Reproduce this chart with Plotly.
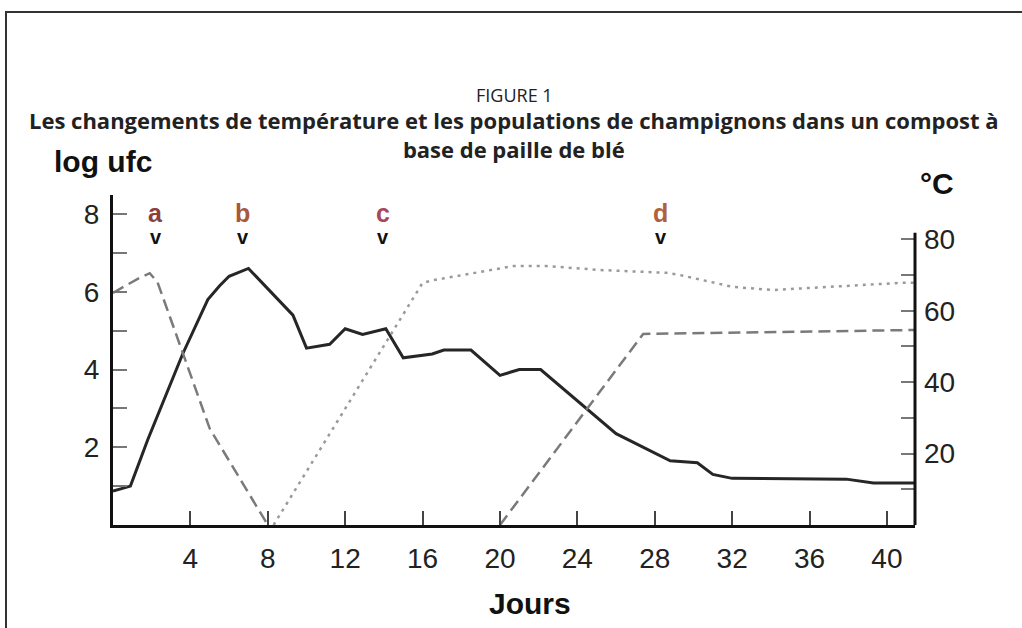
import plotly.graph_objects as go

# ---- data ----
days_ufc = [0, 0.9, 1.8, 3.6, 4.9, 5.5, 6.0, 7.0, 9.3, 10.0, 11.2, 12.0, 12.9, 14.1, 15.0,
            16.5, 17.1, 18.5, 20.0, 21.0, 22.1, 24.6, 26.0, 28.8, 30.2, 31.0, 32.0, 37.9, 39.3, 41.45]
log_ufc = [0.87, 1.0, 2.2, 4.4, 5.8, 6.15, 6.4, 6.6, 5.4, 4.55, 4.65, 5.05, 4.9, 5.05, 4.3,
           4.4, 4.5, 4.5, 3.85, 4.0, 4.0, 2.95, 2.35, 1.65, 1.6, 1.3, 1.2, 1.18, 1.08, 1.08]

days_temp_a = [0, 1.3, 1.9, 2.3, 5.0, 8.0]
temp_a = [65, 69, 70.5, 68, 27, 0]

days_temp_c = [8.3, 16.0, 16.6, 18.0, 20.7, 22.4, 25.2, 28.6, 29.3, 32.0, 34.1, 38.1, 40.7, 41.45]
temp_c = [0, 67.8, 68.6, 70, 72.5, 72.5, 71.4, 70.6, 70, 66.7, 65.8, 67, 67.8, 67.8]

days_temp_d = [20.0, 27.4, 41.45]
temp_d = [0, 53.5, 54.6]

x_ticks = [4, 8, 12, 16, 20, 24, 28, 32, 36, 40]
left_ticks = [1, 2, 3, 4, 5, 6, 7, 8]
left_labels = ["", "2", "", "4", "", "6", "", "8"]
right_ticks = [10, 20, 30, 40, 50, 60, 70, 80]
right_labels = ["", "20", "", "40", "", "60", "", "80"]

phase_letters = ["a", "b", "c", "d"]
phase_days = [2.2, 6.7, 13.95, 28.3]
phase_colors = ["#8e3d3a", "#a8583c", "#a8465a", "#b0603c"]

title_top = "FIGURE 1"
title_main = ("<b>Les changements de température et les populations de champignons dans un compost à"
              "<br>base de paille de blé</b>")

# ---- figure ----
fig = go.Figure()
fig.add_trace(go.Scatter(x=days_ufc, y=log_ufc, mode="lines",
                         line=dict(color="#262626", width=3), yaxis="y", showlegend=False))
fig.add_trace(go.Scatter(x=days_temp_a, y=temp_a, mode="lines",
                         line=dict(color="#7a7a7a", width=2.5, dash="12px,6px"), yaxis="y2", showlegend=False))
fig.add_trace(go.Scatter(x=days_temp_c, y=temp_c, mode="lines",
                         line=dict(color="#9a9a9a", width=2.5, dash="3px,5px"), yaxis="y2", showlegend=False))
fig.add_trace(go.Scatter(x=days_temp_d, y=temp_d, mode="lines",
                         line=dict(color="#7a7a7a", width=2.5, dash="12px,6px"), yaxis="y2", showlegend=False))

W, H = 1022, 628
L, R, T, B = 113, 107, 195, 103
pw, ph = W - L - R, H - T - B

def px_x(px):
    return (px - L) / pw

def px_y(py):
    return (H - B - py) / ph

def note(x, y, text, size, color="#111", family="Arial, Liberation Sans", xref="paper"):
    return dict(x=x, y=y, xref=xref, yref="paper", text=text, showarrow=False,
                xanchor="center", yanchor="middle",
                font=dict(family=family, size=size, color=color))

annotations = []
for letter, d, c in zip(phase_letters, phase_days, phase_colors):
    annotations.append(note(d, px_y(213), "<b>" + letter + "</b>", 25, c, xref="x"))
    annotations.append(note(d, px_y(237), "<b>v</b>", 20, "#111", xref="x"))

annotations += [
    note(0.5, px_y(95), title_top, 18, "#222", family="Open Sans"),
    note(0.5, px_y(135), title_main, 22, "#222", family="Open Sans"),
    note(px_x(103), px_y(161), "<b>log ufc</b>", 30),
    note(px_x(937), px_y(184), "<b>°C</b>", 30),
    note(px_x(530), px_y(603), "<b>Jours</b>", 30),
]

shapes = [
    dict(type="line", xref="paper", yref="y2", x0=1, x1=1, y0=0, y1=81.8,
         line=dict(color="#111", width=3)),
    dict(type="rect", xref="paper", yref="paper", x0=px_x(6), x1=px_x(1100), y0=px_y(700), y1=px_y(12),
         line=dict(color="#333", width=2), fillcolor="rgba(0,0,0,0)", layer="below"),
]

tickfont = dict(family="Arial, Liberation Sans", size=28, color="#222")

fig.update_layout(
    width=W, height=H,
    margin=dict(l=L, r=R, t=T, b=B),
    paper_bgcolor="white", plot_bgcolor="white",
    showlegend=False,
    xaxis=dict(range=[0, 41.45], showline=True, linewidth=3, linecolor="#111",
               tickvals=x_ticks, ticks="inside", ticklen=14, tickwidth=1.5, tickcolor="#444",
               tickfont=tickfont, ticklabelstandoff=6, showgrid=False, zeroline=False),
    yaxis=dict(range=[0, 8.49], showline=True, linewidth=3, linecolor="#111",
               tickvals=left_ticks, ticktext=left_labels, ticks="inside", ticklen=14, tickwidth=1.5,
               tickcolor="#777", tickfont=tickfont, ticklabelstandoff=5, showgrid=False, zeroline=False),
    yaxis2=dict(range=[0, 92.4], overlaying="y", side="right", showline=False,
                tickvals=right_ticks, ticktext=right_labels, ticks="inside", ticklen=14, tickwidth=1.5,
                tickcolor="#777", tickfont=tickfont, ticklabelstandoff=8, showgrid=False, zeroline=False),
    annotations=annotations,
    shapes=shapes,
)

fig.write_html("out.html", config={"displayModeBar": False},
               post_script="document.body.style.margin='0';")
